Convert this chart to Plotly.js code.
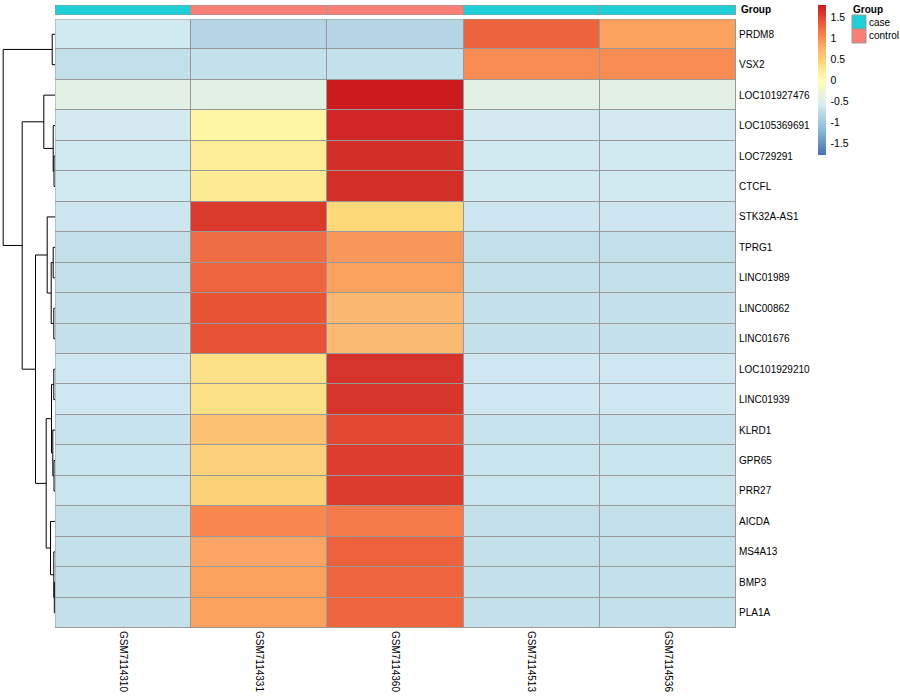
<!DOCTYPE html>
<html><head><meta charset="utf-8">
<script src="https://cdn.plot.ly/plotly-3.0.1.min.js"></script>
<style>html,body{margin:0;padding:0;background:#fff}#chart{width:900px;height:700px}</style>
</head><body><div id="chart"></div>
<script>
// ---------- data ----------
const genes = ['PRDM8','VSX2','LOC101927476','LOC105369691','LOC729291','CTCFL','STK32A-AS1','TPRG1','LINC01989','LINC00862','LINC01676','LOC101929210','LINC01939','KLRD1','GPR65','PRR27','AICDA','MS4A13','BMP3','PLA1A'];
const samples = ['GSM7114310','GSM7114331','GSM7114360','GSM7114513','GSM7114536'];
const sampleGroups = ['case','control','control','case','case'];
const groupLevels = ['case','control'];
const groupColors = ['#1ECFD6','#FA7F77'];

// row-scaled expression (z-scores), one array per sample, in gene order
const GSM7114310 = [-0.63,-0.73,-0.45,-0.61,-0.63,-0.63,-0.66,-0.73,-0.72,-0.71,-0.71,-0.65,-0.65,-0.70,-0.68,-0.67,-0.73,-0.72,-0.72,-0.72];
const GSM7114331 = [-0.85,-0.72,-0.45,0.12,0.25,0.26,1.57,1.23,1.29,1.41,1.42,0.33,0.34,0.62,0.47,0.46,1.05,0.85,0.88,0.88];
const GSM7114360 = [-0.85,-0.72,1.79,1.70,1.65,1.64,0.40,0.95,0.88,0.72,0.70,1.62,1.61,1.47,1.55,1.56,1.14,1.31,1.29,1.29];
const GSM7114513 = [1.30,1.03,-0.45,-0.61,-0.63,-0.63,-0.66,-0.73,-0.72,-0.71,-0.71,-0.65,-0.65,-0.70,-0.68,-0.67,-0.73,-0.72,-0.72,-0.72];
const GSM7114536 = [0.88,1.03,-0.45,-0.61,-0.63,-0.63,-0.66,-0.73,-0.72,-0.71,-0.71,-0.65,-0.65,-0.70,-0.68,-0.67,-0.73,-0.72,-0.72,-0.72];

// row dendrogram merges: [left, right, height]; 'mK' refers to the K-th merge
const dendroMerges = [
  ['LINC00862','LINC01676',1.2],
  ['LOC729291','CTCFL',1.0],
  ['GPR65','PRR27',1.0],
  ['BMP3','PLA1A',0.7],
  ['LOC101929210','LINC01939',1.2],
  ['TPRG1','LINC01989',1.8],
  ['KLRD1','m2',2.2],
  ['PRDM8','VSX2',2.8],
  ['LOC105369691','m1',1.8],
  ['MS4A13','m3',1.2],
  ['m5','m0',3.8],
  ['m4','m6',3.5],
  ['AICDA','m9',4.5],
  ['LOC101927476','m8',11.2],
  ['STK32A-AS1','m10',7.8],
  ['m11','m12',8.8],
  ['m14','m15',19.5],
  ['m13','m16',32.8],
  ['m7','m17',51.8]
];

const colorTicks = [-1.5,-1,-0.5,0,0.5,1,1.5];
const colorTickText = ['-1.5','-1','-0.5','0','0.5','1','1.5'];

// ---------- build ----------
const cols = [GSM7114310,GSM7114331,GSM7114360,GSM7114513,GSM7114536];
const z = genes.map((g,i)=>cols.map(c=>c[i]));
const xIdx = samples.map((s,i)=>i);
const yIdx = genes.map((g,i)=>i);

const ZMIN=-1.79, ZMAX=1.79;
const palStops = [
  [-1.79,'#4470B0'],[-1.19,'#8DBAD8'],[-0.73,'#C3DFEA'],[-0.62,'#D2EAF2'],[-0.45,'#E2F1E4'],
  [0,'#FFFDB2'],[0.25,'#FDEC96'],[0.40,'#FCD87B'],[0.72,'#FBB870'],[1.05,'#F88850'],
  [1.40,'#E95436'],[1.65,'#D32E28'],[1.79,'#CA1B1F']
];
const colorscale = palStops.map(s=>[(s[0]-ZMIN)/(ZMAX-ZMIN), s[1]]);

const FONT = 'Liberation Sans, Arial, Helvetica, sans-serif';

// dendrogram coordinates
const nodeY = {}, nodeH = {};
genes.forEach((g,i)=>{nodeY[g]=i; nodeH[g]=0;});
const dx=[], dy=[];
dendroMerges.forEach((m,k)=>{
  const [a,b,h]=m;
  const ya=nodeY[a], yb=nodeY[b];
  dx.push(nodeH[a],h,h,nodeH[b],null);
  dy.push(ya,ya,yb,yb,null);
  nodeY['m'+k]=(ya+yb)/2; nodeH['m'+k]=h;
});

const W=900,H=700;
const hx0=55/W, hx1=736/W;
const hy0=1-628/H, hy1=1-19/H;
const gy0=1-15/H, gy1=1-5/H;

const traces = [
  {type:'heatmap', x:xIdx, y:yIdx, z:z, xaxis:'x', yaxis:'y',
   colorscale:colorscale, zmin:ZMIN, zmax:ZMAX, xgap:1, ygap:1,
   hoverinfo:'z',
   colorbar:{x:818/W, xanchor:'left', y:gy1, yanchor:'top', len:150, lenmode:'pixels',
     thickness:8, thicknessmode:'pixels', outlinewidth:0, ticks:'outside', ticklen:3, tickcolor:'rgba(0,0,0,0)',
     xpad:0, ypad:0,
     tickvals:colorTicks, ticktext:colorTickText, tickfont:{family:FONT,size:10.5,color:'#000'}}},
  {type:'heatmap', x:xIdx, y:[0], z:[sampleGroups.map(g=>groupLevels.indexOf(g))],
   xaxis:'x', yaxis:'y3', showscale:false, zmin:0, zmax:1, xgap:1,
   colorscale:[[0,groupColors[0]],[0.5,groupColors[0]],[0.5,groupColors[1]],[1,groupColors[1]]],
   hoverinfo:'skip'},
  {type:'scatter', mode:'lines', x:dx, y:dy, xaxis:'x2', yaxis:'y',
   line:{color:'#000',width:1}, hoverinfo:'skip', showlegend:false, connectgaps:false}
];

const shapes = [
  {type:'rect', xref:'x', yref:'y', x0:-0.5, x1:4.5, y0:-0.5, y1:19.5, fillcolor:'#999999', line:{width:0}, layer:'below'},
  {type:'rect', xref:'x', yref:'y', x0:-0.5, x1:4.5, y0:-0.5, y1:19.5, fillcolor:'rgba(0,0,0,0)', line:{width:1,color:'#999999'}, layer:'above'},
  {type:'rect', xref:'x', yref:'y3', x0:-0.5, x1:4.5, y0:-0.5, y1:0.5, fillcolor:'#999999', line:{width:0}, layer:'below'},
  {type:'rect', xref:'x', yref:'y3', x0:-0.5, x1:4.5, y0:-0.5, y1:0.5, fillcolor:'rgba(0,0,0,0)', line:{width:1,color:'#999999'}, layer:'above'}
];
const annotations = [
  {xref:'paper', yref:'paper', x:739/W, y:1-10/H, xanchor:'left', yanchor:'middle', showarrow:false,
   text:'<b>Group</b>', font:{family:FONT,size:10,color:'#000'}},
  {xref:'paper', yref:'paper', x:851/W, y:1-9/H, xanchor:'left', yanchor:'middle', showarrow:false,
   text:'<b>Group</b>', font:{family:FONT,size:10,color:'#000'}}
];
groupLevels.forEach((g,i)=>{
  const top=15+i*14;
  shapes.push({type:'rect', xref:'paper', yref:'paper', x0:852/W, x1:866/W, y0:1-(top+14)/H, y1:1-top/H,
    fillcolor:groupColors[i], line:{width:1,color:'#999999'}});
  annotations.push({xref:'paper', yref:'paper', x:867/W, y:1-(top+7)/H, xanchor:'left', yanchor:'middle',
    showarrow:false, text:g, font:{family:FONT,size:10,color:'#000'}});
});

const layout = {
  width:W, height:H, margin:{l:0,r:0,t:0,b:0}, paper_bgcolor:'#fff', plot_bgcolor:'#fff',
  showlegend:false, font:{family:FONT,size:10,color:'#000'},
  xaxis:{domain:[hx0,hx1], anchor:'y', range:[-0.5,4.5], tickvals:xIdx, ticktext:samples,
    tickangle:90, ticks:'', showgrid:false, zeroline:false, showline:false, ticklabelstandoff:2,
    tickfont:{family:FONT,size:10,color:'#000'}},
  yaxis:{domain:[hy0,hy1], anchor:'x', range:[19.5,-0.5], tickvals:yIdx, ticktext:genes, side:'right',
    ticks:'', showgrid:false, zeroline:false, showline:false, ticklabelstandoff:2,
    tickfont:{family:FONT,size:10,color:'#000'}},
  yaxis3:{domain:[gy0,gy1], anchor:'x', range:[-0.5,0.5], showticklabels:false, ticks:'',
    showgrid:false, zeroline:false, showline:false},
  xaxis2:{domain:[0,hx0], anchor:'y', range:[55,0], showticklabels:false, ticks:'',
    showgrid:false, zeroline:false, showline:false},
  shapes:shapes, annotations:annotations
};
Plotly.newPlot('chart', traces, layout, {displayModeBar:false, staticPlot:true});
</script></body></html>
